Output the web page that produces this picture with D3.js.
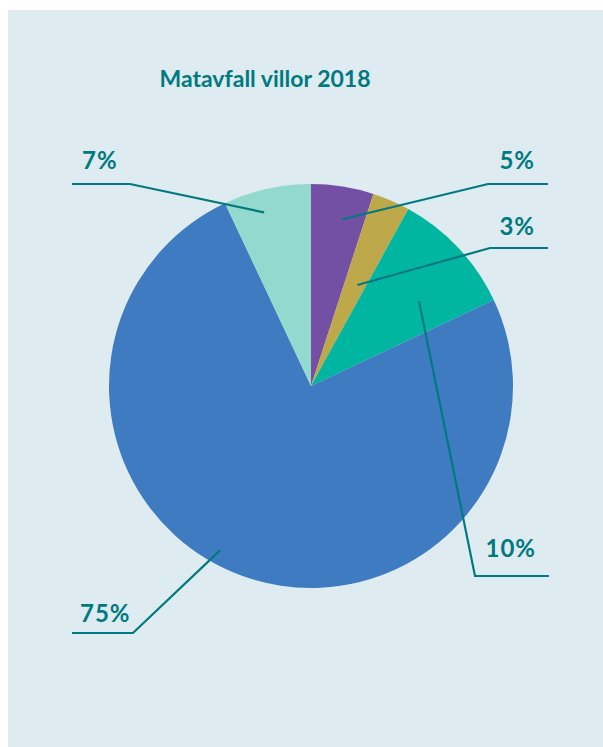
<!DOCTYPE html>
<html><head><meta charset="utf-8">
<script src="https://cdn.jsdelivr.net/npm/d3@7"></script>
<style>
html,body{margin:0;padding:0;background:#ffffff;}
svg{display:block;}
</style></head>
<body>
<svg id="chart" width="603" height="747"></svg>
<script>
const title = "Matavfall villor 2018";
const categories = ["Lila", "Guld", "Turkos", "Blå", "Ljusturkos"];
const values = [5, 3, 10, 75, 7];
const labels = ["5%", "3%", "10%", "75%", "7%"];
const colors = ["#7350a4", "#bea94a", "#00b6a0", "#3e7bc0", "#93d9cd"];

// leader layout: position inside slice (t along angle, k along radius), elbow, end, text
const leaderLayout = [
  {t:0.59, k:0.84, ex:488, ey:184, hx:548, tx:535, ty:169, anchor:"end"},
  {t:0.62, k:0.55, ex:490, ey:248, hx:548, tx:535, ty:235, anchor:"end"},
  {t:0.64, k:0.68, ex:475, ey:576, hx:549, tx:536, ty:557, anchor:"end"},
  {t:0.534,k:0.93, ex:133, ey:633, hx:72,  tx:80,  ty:622, anchor:"start"},
  {t:0.40, k:0.89, ex:130, ey:184, hx:72,  tx:82,  ty:169, anchor:"start"}
];

const svg = d3.select("#chart");
svg.append("rect").attr("x",8).attr("y",10).attr("width",595).attr("height",737).attr("fill","#deebf0");

svg.append("text").attr("x",265).attr("y",87).attr("text-anchor","middle")
  .attr("font-family","Lato, sans-serif").attr("font-weight","bold").attr("font-size","23px")
  .attr("fill","#007a80").text(title);

const cx = 311, cy = 386, R = 202;
const pie = d3.pie().sort(null).value(d => d)(values);
const arc = d3.arc().innerRadius(0).outerRadius(R);
const g = svg.append("g").attr("transform",`translate(${cx},${cy})`);
g.selectAll("path").data(pie).join("path")
  .attr("d",arc).attr("fill",(d,i)=>colors[i]);

const lineColor = "#007a80";
pie.forEach((d,i)=>{
  const L = leaderLayout[i];
  const a = d.startAngle + L.t*(d.endAngle-d.startAngle);
  const r = L.k*R;
  const px = cx + r*Math.sin(a), py = cy - r*Math.cos(a);
  svg.append("polyline")
    .attr("points",`${px},${py} ${L.ex},${L.ey} ${L.hx},${L.ey}`)
    .attr("fill","none").attr("stroke",lineColor).attr("stroke-width",2.2);
  svg.append("text").attr("x",L.tx).attr("y",L.ty).attr("text-anchor",L.anchor)
    .attr("font-family","Lato, sans-serif").attr("font-weight","bold").attr("font-size","24px")
    .attr("letter-spacing","1px")
    .attr("fill",lineColor).text(labels[i]);
});
</script>
</body></html>
